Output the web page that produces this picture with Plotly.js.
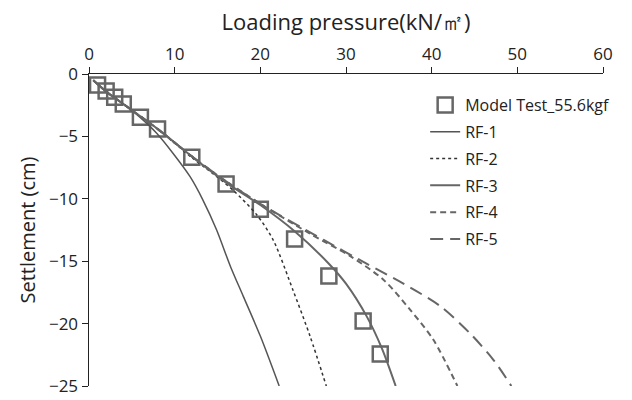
<!DOCTYPE html>
<html><head><meta charset="utf-8">
<script src="https://cdn.plot.ly/plotly-3.0.1.min.js"></script>
<style>body{margin:0;background:#fff}#chart{width:632px;height:400px}</style>
</head><body><div id="chart"></div>
<script>
const testX = [1,2,3,4,6,8,12,16,20,24,28,32,34];
const testY = [-0.88,-1.36,-1.87,-2.4,-3.47,-4.41,-6.67,-8.81,-10.84,-13.22,-16.19,-19.79,-22.44];

const rf1X = [0.5,2,4,6,7.9,9.8,11.8,13.3,14.9,16.5,18.0,20.0,22.2];
const rf1Y = [-0.5,-1.4,-2.4,-3.5,-4.75,-6.35,-8.23,-10.1,-12.5,-15.4,-17.8,-21.0,-25];

const rf2X = [0.5,2,4,8,12,14.5,16.8,19.6,21.5,23.8,25.8,27.7];
const rf2Y = [-0.5,-1.4,-2.4,-4.4,-6.7,-8.0,-9.3,-11.3,-13.3,-17.3,-21.0,-25];

const rf3X = [0.5,2,4,8,12,16,20,24,28,30,32.4,34.2,35.8];
const rf3Y = [-0.5,-1.4,-2.4,-4.4,-6.6,-8.7,-10.5,-12.6,-15.2,-16.8,-19.4,-22,-25];

const rf4X = [0.5,2,4,8,12,16,20,25.8,30.5,34.4,37.5,40.2,43];
const rf4Y = [-0.5,-1.4,-2.4,-4.4,-6.6,-8.6,-10.4,-12.8,-14.6,-16.5,-18.9,-21.3,-25];

const rf5X = [0.5,2,4,8,12,16,20,27.4,32.4,36.7,41,44.5,47.2,49.3];
const rf5Y = [-0.5,-1.4,-2.4,-4.4,-6.6,-8.6,-10.4,-13.3,-15.2,-16.8,-18.6,-20.8,-22.9,-25];

const names = ['Model Test_55.6kgf','RF-1','RF-2','RF-3','RF-4','RF-5'];

const gray = '#666666';
const traces = [
  {x: testX, y: testY, name: names[0], legendgroup: 'g0', mode: 'markers', type: 'scatter',
   marker: {symbol: 'square-open', size: 15, color: gray, line: {width: 2.5, color: gray}}},
  {x: rf1X, y: rf1Y, name: names[1], legendgroup: 'g1', mode: 'lines', line: {color: '#555', width: 1.5, shape: 'spline', smoothing: 0.8}},
  {x: rf2X, y: rf2Y, name: names[2], legendgroup: 'g2', mode: 'lines', line: {color: '#333', width: 1.5, dash: 'dot', shape: 'spline', smoothing: 0.8}},
  {x: rf3X, y: rf3Y, name: names[3], legendgroup: 'g3', mode: 'lines', line: {color: gray, width: 2, shape: 'spline', smoothing: 0.8}},
  {x: rf4X, y: rf4Y, name: names[4], legendgroup: 'g4', mode: 'lines', line: {color: gray, width: 2, dash: '6px,4px', shape: 'spline', smoothing: 0.8}},
  {x: rf5X, y: rf5Y, name: names[5], legendgroup: 'g5', mode: 'lines', line: {color: gray, width: 2, dash: '13px,7px', shape: 'spline', smoothing: 0.8}}
];

const font = {family: 'Open Sans, Liberation Sans, sans-serif', color: '#222'};
const layout = {
  width: 632, height: 400,
  margin: {l: 89, r: 29, t: 74, b: 14},
  paper_bgcolor: '#fff', plot_bgcolor: '#fff',
  showlegend: true,
  font: font,
  legend: {x: 0.654, y: 0.955, xanchor: 'left', yanchor: 'top', bgcolor: 'rgba(0,0,0,0)',
           font: {size: 16, family: font.family, color: '#222'}, tracegroupgap: 3, itemwidth: 30},
  xaxis: {range: [0, 60], dtick: 10, side: 'top', showgrid: false, zeroline: false,
          showline: true, linecolor: '#222', linewidth: 1.5, ticks: 'outside', ticklen: 6,
          tickcolor: '#222', tickfont: {size: 17},
          title: {text: 'Loading pressure(kN/㎡)', font: {size: 22}, standoff: 5}},
  yaxis: {range: [-25, 0], dtick: 5, showgrid: false, zeroline: false,
          showline: true, linecolor: '#222', linewidth: 1.5, ticks: 'outside', ticklen: 6,
          tickcolor: '#222', tickfont: {size: 17},
          title: {text: 'Settlement (cm)', font: {size: 20}, standoff: 8}}
};
Plotly.newPlot('chart', traces, layout, {displayModeBar: false, staticPlot: true});
</script></body></html>
